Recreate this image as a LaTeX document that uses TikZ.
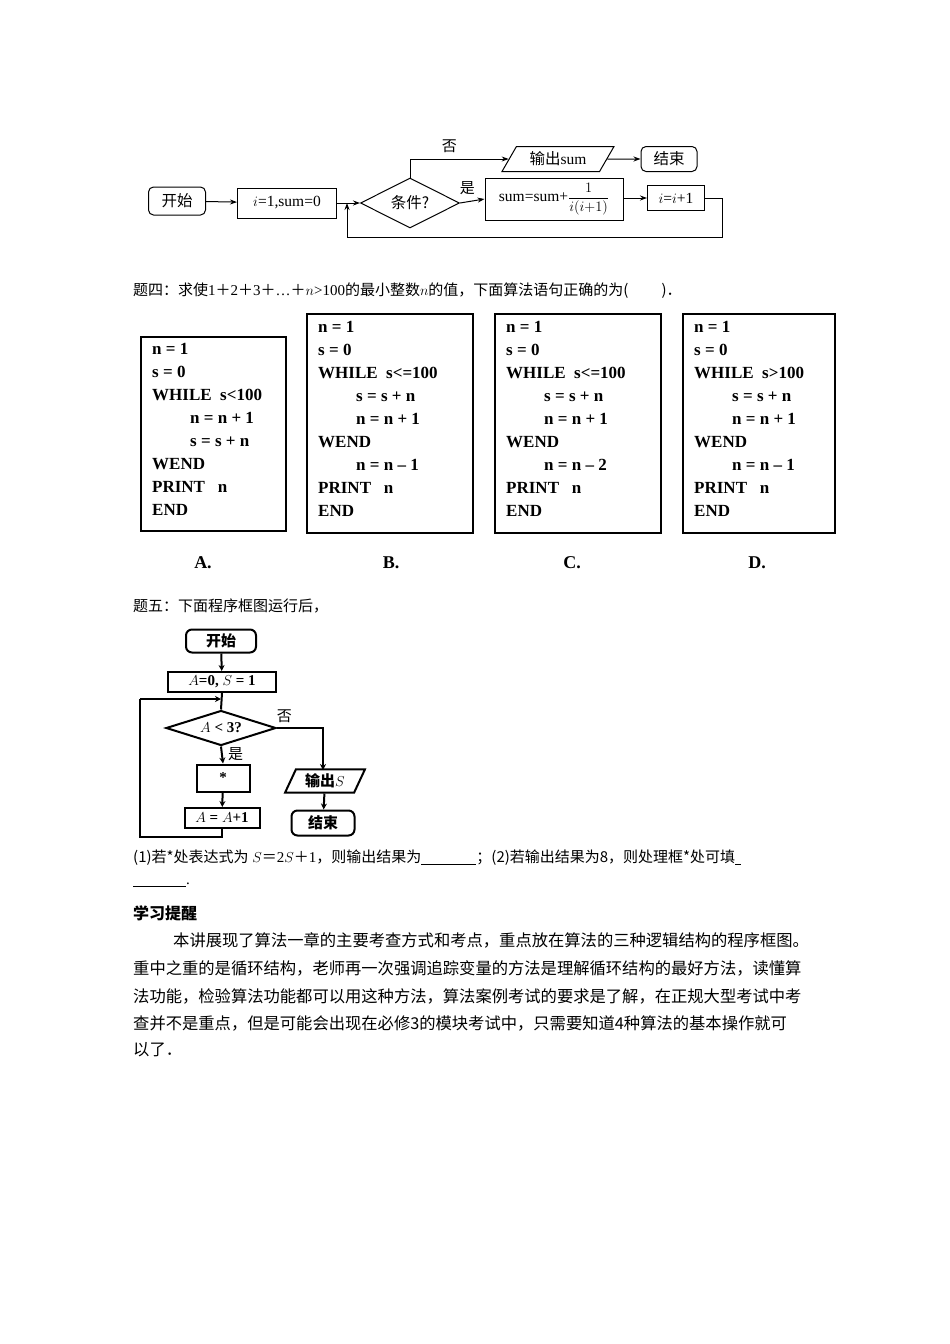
\documentclass[tikz,border=0pt]{standalone}
\usepackage{fontspec}
\setmainfont{Liberation Serif}
\newfontfamily\cjk{Noto Sans CJK SC}
\usetikzlibrary{shapes.geometric,arrows.meta}
\begin{document}
\begin{tikzpicture}[x=1pt,y=-1pt,
  fl/.style={draw,line width=1pt,inner sep=2pt,font=\fontsize{15.5}{17}\selectfont},
  rbox/.style={fl,rounded corners=5pt},
  arr/.style={line width=1pt,-{Stealth[length=7pt,width=5pt]}},
  ln/.style={line width=1pt},
  fl2/.style={draw,line width=2pt,inner sep=2pt,font=\fontsize{15}{16}\selectfont\bfseries},
  arr2/.style={line width=2pt,-{Stealth[length=6pt,width=6pt]}},
  ln2/.style={line width=2pt},
  code/.style={draw,line width=2.5pt,anchor=north west},
  codetxt/.style={anchor=north west,inner sep=0pt,align=left,font=\fontsize{17}{23}\selectfont\bfseries},
  txt/.style={anchor=west,inner sep=0pt,font=\fontsize{15}{18}\selectfont},
  para/.style={anchor=west,inner sep=0pt,font=\fontsize{16.3}{18}\cjk}
]
\useasboundingbox[fill=white] (0,0) rectangle (950,1344);
% ---------- top flowchart ----------
\node[rbox,minimum width=57pt,minimum height=28pt] (st) at (177,201) {\cjk 开始};
\node[fl,minimum width=99pt,minimum height=30pt] (ini) at (287,203) {$i$=1,sum=0};
\node[fl,diamond,aspect=2,minimum width=99pt,minimum height=50pt,inner sep=0pt] (cd) at (410,203) {\cjk 条件?};
\node[fl,trapezium,trapezium left angle=60,trapezium right angle=120,minimum width=100pt,minimum height=25pt] (out) at (558,159) {\cjk 输出\rm sum};
\node[rbox,minimum width=56pt,minimum height=25pt] (en) at (669,159) {\cjk 结束};
\node[fl,minimum width=138pt,minimum height=42pt] (sm) at (554,199) {sum=sum+$\displaystyle\frac{1}{i(i{+}1)}$};
\node[fl,minimum width=57pt,minimum height=25pt] (inc) at (676,198) {$i$=$i$+1};
\coordinate (j1) at (347,203);
\draw[arr] (st) -- (ini);
\draw[arr] (ini.east) -- (cd.west);
\draw[arr] (cd.north) |- (out.west) node[pos=0.7,above=2pt,font=\fontsize{15}{16}\cjk]{否};
\draw[arr] (out) -- (en);
\draw[arr] (cd.east) -- (sm.west) node[pos=0.3,above=3pt,font=\fontsize{15}{16}\cjk]{是};
\draw[arr] (sm.east|-inc) -- (inc.west);
\draw[ln] (inc.east) -- (722,198) -- (722,237) -- (347,237);
\draw[arr] (347,237) -- (j1);
% ---------- question 4 ----------
\node[txt] (q4) at (133,291) {\cjk 题四：求使\rm 1{\cjk ＋}2{\cjk ＋}3{\cjk ＋}…{\cjk ＋}$n$>100\cjk 的最小整数$n$的值，下面算法语句正确的为(\hspace{2.2em})．};
\draw[code] (141,337) rectangle (286,531);
\draw[code] (307,314) rectangle (473,533);
\draw[code] (495,314) rectangle (661,533);
\draw[code] (683,314) rectangle (835,533);
\node[codetxt] (ca) at (152,343) {n = 1\\s = 0\\WHILE\ \ s<100\\\hspace{38pt}n = n + 1\\\hspace{38pt}s = s + n\\WEND\\PRINT\ \ \ n\\END};
\node[codetxt] (cb) at (318,321) {n = 1\\s = 0\\WHILE\ \ s<=100\\\hspace{38pt}s = s + n\\\hspace{38pt}n = n + 1\\WEND\\\hspace{38pt}n = n -- 1\\PRINT\ \ \ n\\END};
\node[codetxt] (cc) at (506,321) {n = 1\\s = 0\\WHILE\ \ s<=100\\\hspace{38pt}s = s + n\\\hspace{38pt}n = n + 1\\WEND\\\hspace{38pt}n = n -- 2\\PRINT\ \ \ n\\END};
\node[codetxt] (cdd) at (694,321) {n = 1\\s = 0\\WHILE\ \ s>100\\\hspace{38pt}s = s + n\\\hspace{38pt}n = n + 1\\WEND\\\hspace{38pt}n = n -- 1\\PRINT\ \ \ n\\END};
\node[font=\fontsize{18}{20}\selectfont\bfseries] (la) at (203,563) {A.};
\node[font=\fontsize{18}{20}\selectfont\bfseries] (lb) at (391,563) {B.};
\node[font=\fontsize{18}{20}\selectfont\bfseries] (lc) at (572,563) {C.};
\node[font=\fontsize{18}{20}\selectfont\bfseries] (ld) at (757,563) {D.};
% ---------- question 5 ----------
\node[txt] (q5) at (133,606) {\cjk 题五：下面程序框图运行后，};
\node[fl2,rounded corners=6pt,minimum width=70pt,minimum height=23pt] (s2) at (221,641) {\cjk 开始};
\node[fl2,minimum width=108pt,minimum height=20pt,inner sep=1pt] (i2) at (222,682) {$A$=0, $S$ = 1};
\node[fl2,diamond,aspect=3.1,minimum width=110pt,minimum height=35pt,inner sep=0pt] (d2) at (221,728) {$A$ < 3?};
\node[fl2,minimum width=53pt,minimum height=27pt] (b2) at (223,778) {*};
\node[fl2,minimum width=75pt,minimum height=20pt,inner sep=1pt] (a2) at (222,818) {$A$ = $A$+1};
\node[fl2,trapezium,trapezium left angle=65,trapezium right angle=115,minimum width=80pt,minimum height=20pt,inner sep=1pt] (o2) at (325,781) {\cjk 输出$S$};
\node[fl2,rounded corners=6pt,minimum width=63pt,minimum height=25pt] (e2) at (323,823) {\cjk 结束};
\coordinate (j2) at (221,699);
\draw[arr2] (s2) -- (i2);
\draw[ln2] (i2.south) -- (d2.north);
\draw[arr2] (d2.south) -- (b2.north) node[pos=0.45,right=2pt,font=\fontsize{15}{16}\cjk]{是};
\draw[arr2] (b2) -- (a2);
\draw[ln2] (a2.south) -- (222,837) -- (140,837) -- (140,699);
\draw[arr2] (140,699) -- (j2);
\draw[arr2] (d2.east) -| (323,770) node[pos=0.08,above=1pt,font=\fontsize{15}{16}\cjk]{否};
\draw[arr2] (o2) -- (e2);
% ---------- text ----------
\node[txt] (t1) at (133,858) {\cjk (1)若*处表达式为\rm\ $S${\cjk ＝}2$S${\cjk ＋}1\cjk ，则输出结果为\rm\underline{\hspace{55pt}}\cjk ；(2)若输出结果为8，则处理框*处可填\rm\underline{\hspace{6pt}}};
\node[txt] (t2) at (133,885) {\rm\underline{\hspace{53pt}}.};
\node[anchor=west,inner sep=0pt,font=\fontsize{16}{18}\cjk\bfseries] (h) at (133,913) {学习提醒};
\node[para] (p1) at (173,940) {本讲展现了算法一章的主要考查方式和考点，重点放在算法的三种逻辑结构的程序框图。};
\node[para] (p2) at (133,968) {重中之重的是循环结构，老师再一次强调追踪变量的方法是理解循环结构的最好方法，读懂算};
\node[para] (p3) at (133,996) {法功能，检验算法功能都可以用这种方法，算法案例考试的要求是了解，在正规大型考试中考};
\node[para] (p4) at (133,1023) {查并不是重点，但是可能会出现在必修3的模块考试中，只需要知道4种算法的基本操作就可};
\node[para] (p5) at (133,1050) {以了．};
\end{tikzpicture}
\end{document}
